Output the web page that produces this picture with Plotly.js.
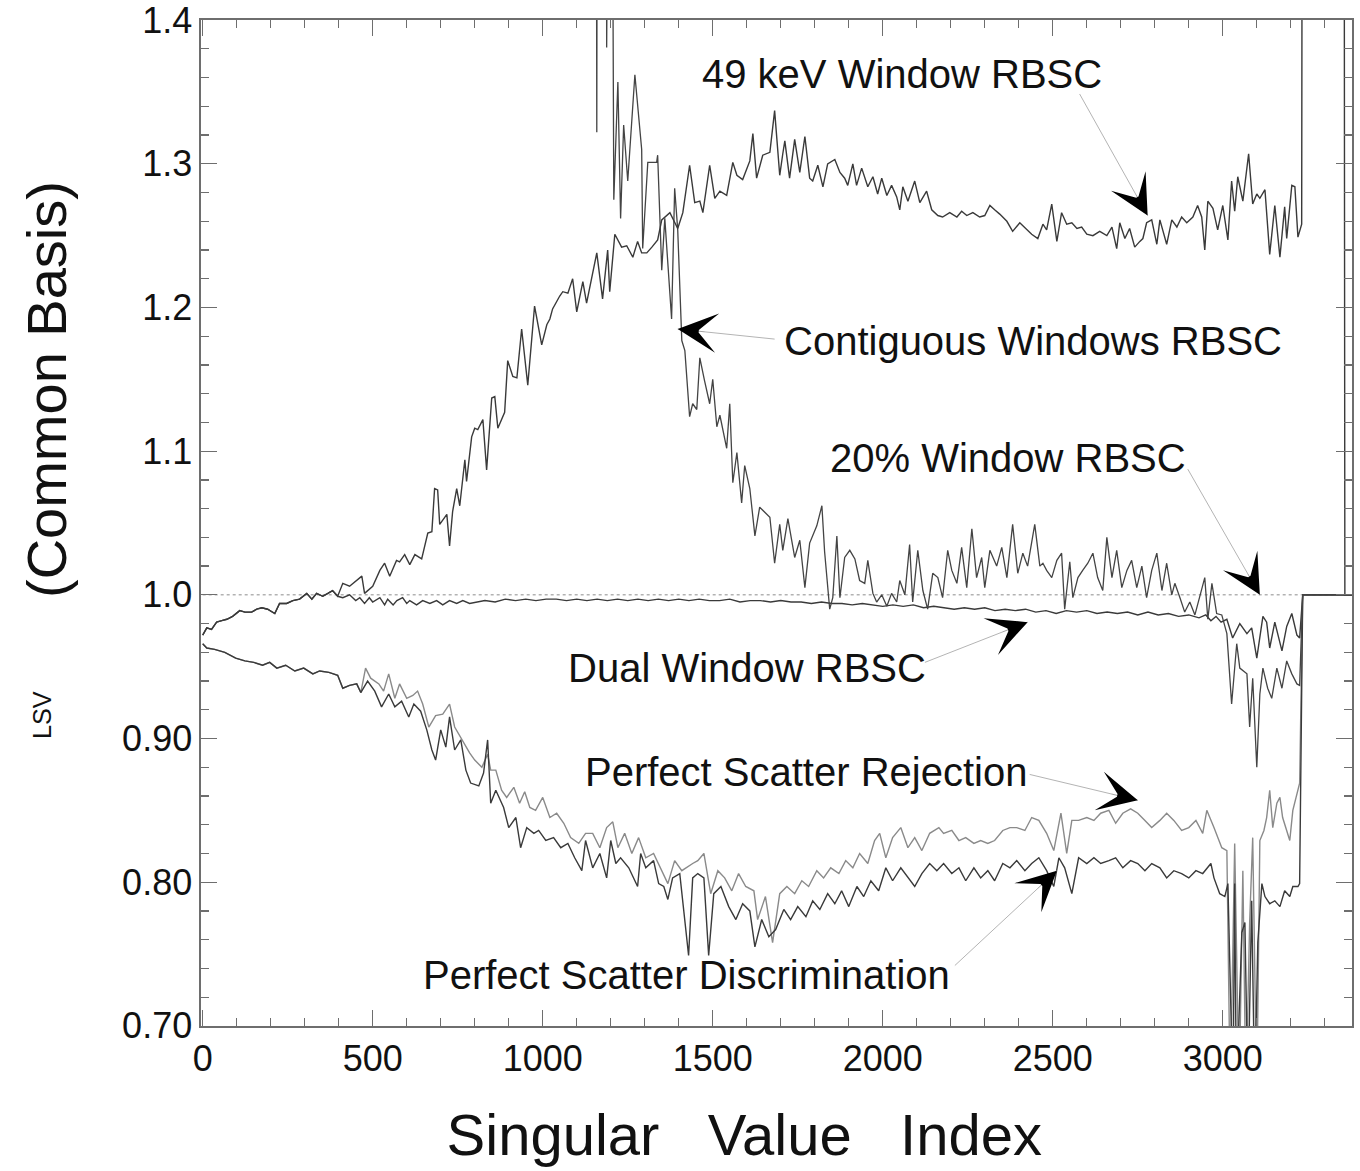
<!DOCTYPE html>
<html><head><meta charset="utf-8">
<script src="https://cdn.plot.ly/plotly-3.0.1.min.js"></script>
<style>html,body{margin:0;padding:0;background:#fff}</style>
</head><body>
<div id="chart" style="width:1360px;height:1171px"></div>
<script>
// ---------- data: [singular value index, LSV ratio] ----------
const earlyUpper = [[0,0.972],[12,0.977],[26,0.976],[41,0.981],[56,0.982],[71,0.983],[88,0.985],[109,0.989],[124,0.988],[144,0.988],[159,0.990],[174,0.991],[191,0.990],[212,0.987],[226,0.994],[247,0.994],[265,0.996],[285,0.997],[306,1.001],[321,0.997],[335,1.001],[353,0.999],[368,1.001],[382,1.003],[397,0.999]];

const earlyLower = [[0,0.966],[12,0.963],[35,0.962],[65,0.960],[97,0.956],[124,0.954],[150,0.953],[176,0.951],[197,0.953],[218,0.949],[244,0.951],[271,0.947],[297,0.949],[324,0.945],[344,0.947],[371,0.946],[397,0.944],[412,0.935],[432,0.937],[453,0.938],[465,0.932]];

const keV49Rest = [[412,1.008],[432,1.006],[453,1.010],[468,1.013],[476,1.001],[500,1.006],[521,1.017],[535,1.022],[550,1.013],[570,1.024],[579,1.023],[594,1.028],[609,1.021],[624,1.028],[644,1.025],[662,1.043],[674,1.044],[682,1.074],[691,1.073],[697,1.049],[718,1.056],[726,1.034],[735,1.058],[747,1.074],[756,1.062],[771,1.094],[776,1.079],[791,1.110],[800,1.116],[809,1.115],[824,1.122],[835,1.087],[850,1.137],[859,1.138],[868,1.116],[888,1.127],[897,1.163],[912,1.152],[924,1.151],[938,1.185],[956,1.146],[976,1.201],[997,1.174],[1012,1.188],[1021,1.192],[1029,1.199],[1050,1.208],[1059,1.211],[1074,1.210],[1088,1.220],[1100,1.197],[1118,1.218],[1129,1.203],[1159,1.238],[1176,1.206],[1191,1.240],[1197,1.211],[1212,1.251],[1232,1.242],[1247,1.243],[1265,1.235],[1279,1.246],[1291,1.238],[1306,1.238],[1321,1.242],[1338,1.247],[1350,1.261],[1374,1.266],[1397,1.255],[1412,1.266],[1432,1.299],[1447,1.273],[1462,1.274],[1471,1.266],[1491,1.299],[1506,1.276],[1521,1.281],[1541,1.278],[1559,1.301],[1571,1.292],[1588,1.289],[1609,1.302],[1618,1.321],[1629,1.290],[1647,1.306],[1668,1.308],[1682,1.337],[1697,1.292],[1706,1.307],[1712,1.316],[1726,1.290],[1741,1.317],[1756,1.294],[1771,1.319],[1785,1.290],[1794,1.288],[1809,1.299],[1824,1.284],[1838,1.300],[1859,1.303],[1874,1.294],[1888,1.290],[1897,1.285],[1912,1.300],[1923,1.285],[1938,1.297],[1956,1.284],[1971,1.291],[1985,1.279],[1997,1.290],[2012,1.278],[2026,1.285],[2041,1.277],[2050,1.268],[2059,1.284],[2074,1.274],[2094,1.288],[2109,1.273],[2129,1.281],[2144,1.268],[2162,1.264],[2176,1.263],[2197,1.266],[2218,1.263],[2232,1.267],[2247,1.264],[2265,1.266],[2285,1.263],[2300,1.264],[2315,1.271],[2329,1.268],[2344,1.265],[2365,1.260],[2382,1.253],[2403,1.259],[2424,1.254],[2438,1.251],[2456,1.248],[2471,1.258],[2482,1.254],[2497,1.272],[2512,1.246],[2526,1.266],[2541,1.258],[2556,1.259],[2571,1.255],[2585,1.256],[2600,1.251],[2618,1.250],[2638,1.253],[2659,1.250],[2674,1.256],[2688,1.241],[2697,1.259],[2712,1.248],[2726,1.255],[2741,1.242],[2756,1.246],[2765,1.248],[2776,1.259],[2791,1.261],[2806,1.244],[2815,1.261],[2835,1.244],[2850,1.261],[2865,1.256],[2879,1.263],[2894,1.259],[2912,1.263],[2926,1.271],[2938,1.263],[2947,1.240],[2956,1.274],[2971,1.269],[2985,1.254],[3000,1.271],[3015,1.247],[3026,1.288],[3035,1.267],[3044,1.291],[3059,1.274],[3076,1.307],[3088,1.272],[3100,1.279],[3109,1.276],[3124,1.282],[3138,1.237],[3153,1.271],[3168,1.235],[3182,1.270],[3188,1.248],[3203,1.285],[3212,1.284],[3221,1.249],[3232,1.258],[3235,1.8],[3356,1.8],[3359,1.0],[3380,1.0]];

const dualRest = [[412,0.998],[432,1.000],[450,0.996],[462,0.998],[476,0.994],[490,0.998],[500,0.995],[521,0.998],[535,0.993],[544,0.997],[560,0.993],[571,0.996],[588,0.998],[600,0.994],[609,0.996],[629,0.993],[647,0.996],[668,0.994],[688,0.996],[706,0.993],[726,0.996],[747,0.994],[765,0.996],[785,0.994],[806,0.995],[830,0.996],[860,0.995],[890,0.997],[920,0.996],[950,0.997],[980,0.996],[1010,0.997],[1040,0.997],[1070,0.996],[1100,0.997],[1130,0.996],[1160,0.997],[1190,0.996],[1220,0.997],[1250,0.996],[1280,0.997],[1310,0.996],[1340,0.997],[1370,0.996],[1400,0.997],[1430,0.996],[1460,0.997],[1490,0.996],[1520,0.996],[1550,0.997],[1580,0.995],[1610,0.996],[1640,0.996],[1670,0.995],[1700,0.996],[1730,0.995],[1760,0.995],[1790,0.994],[1820,0.995],[1850,0.994],[1880,0.994],[1910,0.993],[1940,0.994],[1970,0.993],[2000,0.992],[2030,0.993],[2060,0.992],[2090,0.993],[2120,0.991],[2150,0.992],[2180,0.991],[2210,0.990],[2240,0.991],[2270,0.990],[2300,0.991],[2330,0.989],[2360,0.990],[2390,0.989],[2420,0.990],[2450,0.988],[2480,0.989],[2510,0.987],[2540,0.989],[2570,0.988],[2600,0.989],[2630,0.987],[2660,0.988],[2690,0.987],[2720,0.988],[2750,0.986],[2780,0.988],[2810,0.986],[2840,0.987],[2870,0.985],[2900,0.986],[2930,0.984],[2950,0.986],[2965,0.982],[2980,0.985],[2995,0.981],[3012,0.983],[3029,0.970],[3050,0.980],[3071,0.973],[3085,0.977],[3100,0.956],[3118,0.985],[3129,0.981],[3138,0.963],[3153,0.981],[3174,0.961],[3188,0.978],[3203,0.987],[3218,0.972],[3226,0.970],[3235,1.0],[3380,1.0]];

const contiguous = [[1140,1.8],[1156,1.8],[1159,1.322],[1162,1.8],[1186,1.8],[1188,1.381],[1190,1.8],[1200,1.8],[1209,1.275],[1221,1.357],[1229,1.262],[1238,1.327],[1250,1.288],[1271,1.362],[1291,1.310],[1294,1.241],[1309,1.301],[1335,1.301],[1338,1.306],[1350,1.226],[1359,1.262],[1379,1.192],[1388,1.283],[1397,1.254],[1409,1.177],[1418,1.170],[1432,1.124],[1441,1.133],[1453,1.129],[1462,1.165],[1476,1.149],[1491,1.133],[1500,1.150],[1512,1.117],[1521,1.125],[1541,1.102],[1550,1.133],[1559,1.078],[1571,1.099],[1585,1.064],[1594,1.090],[1609,1.074],[1624,1.041],[1638,1.061],[1668,1.054],[1682,1.022],[1697,1.049],[1706,1.031],[1721,1.053],[1741,1.026],[1756,1.038],[1771,1.005],[1785,1.036],[1806,1.048],[1821,1.062],[1829,1.030],[1844,0.990],[1853,0.998],[1865,1.041],[1874,0.998],[1888,1.026],[1903,1.031],[1918,1.025],[1932,1.010],[1947,1.008],[1956,1.024],[1971,1.001],[1982,0.995],[1997,1.000],[2012,0.992],[2026,1.001],[2041,0.995],[2050,1.010],[2065,1.000],[2079,1.035],[2088,0.995],[2103,1.031],[2118,1.003],[2132,0.990],[2147,1.015],[2162,1.012],[2176,0.998],[2191,1.031],[2203,1.017],[2218,1.008],[2232,1.033],[2247,1.005],[2262,1.046],[2276,1.012],[2291,1.026],[2300,1.005],[2315,1.031],[2335,1.020],[2350,1.033],[2365,1.012],[2382,1.049],[2397,1.015],[2412,1.029],[2426,1.020],[2447,1.049],[2462,1.020],[2471,1.022],[2482,1.017],[2497,1.012],[2512,1.024],[2526,1.029],[2535,0.990],[2550,1.023],[2559,0.998],[2574,1.012],[2588,1.017],[2603,1.022],[2618,1.029],[2632,1.012],[2647,1.003],[2659,1.040],[2674,1.012],[2688,1.031],[2703,1.005],[2718,1.017],[2732,1.024],[2747,1.005],[2762,1.020],[2776,0.998],[2791,1.017],[2806,1.029],[2821,1.003],[2835,1.022],[2850,1.000],[2859,1.008],[2874,0.998],[2888,0.988],[2903,0.995],[2918,0.986],[2947,1.012],[2956,0.983],[2968,1.008],[2982,0.987],[2997,0.986],[3012,0.973],[3026,0.924],[3041,0.966],[3050,0.949],[3071,0.945],[3079,0.908],[3088,0.942],[3100,0.880],[3109,0.931],[3118,0.949],[3132,0.935],[3144,0.928],[3159,0.949],[3174,0.935],[3188,0.954],[3203,0.945],[3218,0.938],[3226,0.937],[3235,1.0],[3380,1.0]];

const rejectionRest = [[479,0.949],[494,0.942],[518,0.938],[532,0.933],[547,0.945],[565,0.928],[579,0.938],[600,0.928],[618,0.930],[632,0.933],[647,0.924],[665,0.908],[685,0.916],[706,0.917],[726,0.924],[741,0.908],[762,0.899],[785,0.890],[800,0.885],[821,0.880],[838,0.889],[847,0.878],[862,0.878],[879,0.864],[894,0.859],[915,0.866],[932,0.855],[947,0.863],[962,0.852],[979,0.850],[1000,0.859],[1021,0.845],[1041,0.848],[1062,0.841],[1082,0.831],[1106,0.827],[1126,0.834],[1147,0.834],[1168,0.824],[1188,0.838],[1206,0.842],[1221,0.824],[1241,0.834],[1262,0.820],[1282,0.831],[1303,0.817],[1326,0.820],[1347,0.810],[1368,0.799],[1388,0.815],[1409,0.808],[1441,0.813],[1456,0.815],[1474,0.820],[1494,0.792],[1515,0.808],[1535,0.803],[1556,0.794],[1576,0.806],[1597,0.797],[1621,0.794],[1632,0.774],[1655,0.790],[1676,0.758],[1697,0.792],[1718,0.797],[1741,0.792],[1762,0.801],[1782,0.797],[1806,0.808],[1826,0.803],[1847,0.810],[1871,0.806],[1891,0.815],[1912,0.810],[1932,0.820],[1956,0.813],[1976,0.829],[1991,0.834],[2009,0.817],[2029,0.831],[2053,0.838],[2074,0.824],[2094,0.831],[2115,0.822],[2138,0.834],[2165,0.838],[2179,0.834],[2203,0.836],[2224,0.829],[2244,0.831],[2268,0.827],[2288,0.829],[2309,0.827],[2329,0.829],[2353,0.836],[2374,0.838],[2394,0.838],[2418,0.836],[2438,0.845],[2459,0.843],[2482,0.834],[2503,0.822],[2524,0.848],[2541,0.820],[2556,0.843],[2576,0.843],[2600,0.845],[2621,0.843],[2641,0.848],[2665,0.850],[2685,0.841],[2706,0.848],[2729,0.851],[2750,0.848],[2771,0.843],[2791,0.838],[2815,0.843],[2835,0.848],[2856,0.843],[2879,0.836],[2900,0.838],[2921,0.843],[2941,0.834],[2953,0.850],[2974,0.838],[2997,0.824],[3012,0.822],[3022,0.65],[3035,0.827],[3048,0.65],[3059,0.808],[3068,0.65],[3079,0.772],[3088,0.831],[3100,0.65],[3109,0.829],[3121,0.836],[3129,0.845],[3138,0.864],[3147,0.838],[3159,0.855],[3168,0.859],[3176,0.845],[3188,0.836],[3197,0.829],[3206,0.850],[3218,0.862],[3226,0.869],[3235,1.0],[3380,1.0]];

const discriminationRest = [[485,0.940],[506,0.933],[526,0.922],[547,0.931],[565,0.922],[585,0.926],[606,0.915],[621,0.924],[641,0.919],[659,0.906],[674,0.892],[685,0.885],[700,0.906],[715,0.894],[726,0.915],[741,0.892],[759,0.899],[774,0.878],[788,0.869],[812,0.867],[826,0.876],[838,0.899],[847,0.855],[862,0.864],[885,0.852],[900,0.838],[921,0.845],[935,0.824],[953,0.838],[974,0.834],[988,0.836],[1009,0.829],[1032,0.831],[1053,0.824],[1074,0.827],[1094,0.817],[1115,0.808],[1126,0.829],[1147,0.810],[1168,0.820],[1188,0.803],[1200,0.829],[1215,0.813],[1229,0.817],[1253,0.810],[1279,0.797],[1288,0.820],[1303,0.810],[1326,0.815],[1341,0.799],[1356,0.797],[1368,0.788],[1382,0.803],[1403,0.806],[1429,0.749],[1441,0.803],[1456,0.806],[1474,0.803],[1488,0.749],[1503,0.792],[1524,0.797],[1547,0.783],[1568,0.774],[1588,0.785],[1609,0.780],[1624,0.755],[1644,0.774],[1665,0.762],[1685,0.767],[1709,0.781],[1729,0.774],[1750,0.783],[1774,0.776],[1794,0.787],[1815,0.781],[1838,0.792],[1859,0.785],[1879,0.794],[1900,0.783],[1924,0.797],[1944,0.790],[1965,0.801],[1988,0.794],[2009,0.810],[2029,0.801],[2053,0.810],[2074,0.803],[2094,0.797],[2115,0.806],[2138,0.813],[2159,0.808],[2179,0.813],[2203,0.806],[2224,0.810],[2244,0.801],[2268,0.810],[2288,0.803],[2309,0.808],[2329,0.801],[2353,0.813],[2374,0.810],[2394,0.815],[2418,0.808],[2438,0.813],[2459,0.817],[2482,0.808],[2503,0.797],[2518,0.817],[2535,0.810],[2556,0.792],[2576,0.817],[2600,0.813],[2621,0.817],[2641,0.813],[2665,0.815],[2685,0.817],[2706,0.810],[2729,0.815],[2750,0.813],[2771,0.808],[2791,0.813],[2815,0.810],[2835,0.803],[2856,0.808],[2879,0.806],[2900,0.803],[2921,0.808],[2941,0.806],[2965,0.813],[2974,0.803],[2991,0.792],[3006,0.790],[3015,0.799],[3030,0.65],[3035,0.799],[3040,0.65],[3056,0.765],[3065,0.772],[3074,0.65],[3085,0.787],[3094,0.65],[3103,0.758],[3115,0.799],[3124,0.790],[3138,0.785],[3153,0.787],[3168,0.783],[3182,0.794],[3197,0.790],[3206,0.797],[3221,0.797],[3226,0.799],[3235,1.0],[3380,1.0]];

const window20 = [[0,1.0],[3380,1.0]];

const xTickVals = [0, 500, 1000, 1500, 2000, 2500, 3000];
const xTickText = ['0', '500', '1000', '1500', '2000', '2500', '3000'];
const yTickVals = [0.7, 0.8, 0.9, 1.0, 1.1, 1.2, 1.3, 1.4];
const yTickText = ['0.70', '0.80', '0.90', '1.0', '1.1', '1.2', '1.3', '1.4'];

// ---------- build ----------
const keV49 = earlyUpper.concat(keV49Rest);
const dual = earlyUpper.concat(dualRest);
const rejection = earlyLower.concat(rejectionRest);
const discrimination = earlyLower.concat(discriminationRest);

function line(pts, name, color, width, dash) {
  return {
    type: 'scatter', mode: 'lines', name: name,
    x: pts.map(p => p[0]), y: pts.map(p => p[1]),
    line: {color: color, width: width, dash: dash || 'solid'},
    hoverinfo: 'x+y+name'
  };
}

const traces = [
  line(window20, '20% Window RBSC', '#8c8c8c', 1, 'dot'),
  line(rejection, 'Perfect Scatter Rejection', '#8a8a8a', 1.4),
  line(discrimination, 'Perfect Scatter Discrimination', '#3a3a3a', 1.4),
  line(dual, 'Dual Window RBSC', '#3a3a3a', 1.4),
  line(contiguous, 'Contiguous Windows RBSC', '#444444', 1.3),
  line(keV49, '49 keV Window RBSC', '#3a3a3a', 1.4)
];

const FONT = 'Liberation Sans, Arial, Helvetica, sans-serif';
const KX = 1151 / 3385, KY = 1006 / 0.7;

const labels = [
  {t: '49 keV Window RBSC', x: 1462, y: 1.3625, tip: [2779, 1.264], tail: [2579, 1.3486]},
  {t: 'Contiguous Windows RBSC', x: 1703, y: 1.1764, tip: [1397, 1.185], tail: [1682, 1.178]},
  {t: '20% Window RBSC', x: 1838, y: 1.0951, tip: [3109, 1.000], tail: [2897, 1.0875]},
  {t: 'Dual Window RBSC', x: 1068, y: 0.9493, tip: [2426, 0.981], tail: [2124, 0.953]},
  {t: 'Perfect Scatter Rejection', x: 1118, y: 0.8764, tip: [2750, 0.857], tail: [2432, 0.875]},
  {t: 'Perfect Scatter Discrimination', x: 641, y: 0.7354, tip: [2512, 0.808], tail: [2212, 0.742]}
];

const annotations = [];
const shapes = [];
labels.forEach(l => {
  annotations.push({xref: 'x', yref: 'y', x: l.x, y: l.y, text: l.t, showarrow: false,
    xanchor: 'left', yanchor: 'middle', font: {family: FONT, size: 40, color: '#111'}});
  shapes.push({type: 'line', xref: 'x', yref: 'y', x0: l.tail[0], y0: l.tail[1], x1: l.tip[0], y1: l.tip[1],
    line: {color: '#b4b4b4', width: 1}, layer: 'above'});
  const dx = (l.tail[0] - l.tip[0]) * KX, dy = -(l.tail[1] - l.tip[1]) * KY;
  const len = Math.hypot(dx, dy);
  annotations.push({xref: 'x', yref: 'y', x: l.tip[0], y: l.tip[1],
    ax: dx / len * 30, ay: dy / len * 30, text: ' ', showarrow: true, arrowhead: 3,
    arrowwidth: 0.1, arrowsize: 66, arrowcolor: '#000', standoff: 0});
});

const NB = '\u00a0';
const axisCommon = {
  showline: true, linecolor: '#6e6e6e', linewidth: 1.6, mirror: 'ticks',
  ticks: 'inside', ticklen: 16, tickwidth: 1.3, tickcolor: '#6e6e6e',
  showgrid: false, zeroline: false, ticklabeloverflow: 'allow',
  tickfont: {family: FONT, size: 36, color: '#111'}
};

const layout = {
  width: 1360, height: 1171,
  margin: {l: 201, r: 8, t: 20, b: 145},
  paper_bgcolor: '#fff', plot_bgcolor: '#fff',
  showlegend: false,
  xaxis: Object.assign({}, axisCommon, {
    range: [-5, 3380], tickvals: xTickVals, ticktext: xTickText,
    minor: {dtick: 100, tick0: 0, ticks: 'inside', ticklen: 8, tickwidth: 1.2, tickcolor: '#6e6e6e'},
    title: {text: 'Singular' + NB + NB + NB + 'Value' + NB + NB + NB + 'Index' + NB + NB + NB + NB + '.',
      font: {family: FONT, size: 58, color: '#111'}, standoff: 36}
  }),
  yaxis: Object.assign({}, axisCommon, {
    range: [0.6999, 1.4001], tickvals: yTickVals, ticktext: yTickText,
    minor: {dtick: 0.02, tick0: 0.7, ticks: 'inside', ticklen: 8, tickwidth: 1.2, tickcolor: '#6e6e6e'},
    title: {text: '<sup>' + NB.repeat(18) + 'LSV</sup><span style="font-size:56px">' + NB.repeat(6) + '(Common Basis)</span>',
      font: {family: FONT, size: 36, color: '#111'}, standoff: 44}
  }),
  shapes: shapes,
  annotations: annotations
};

Plotly.newPlot('chart', traces, layout, {displayModeBar: false, staticPlot: true}).then(() => {
  // hide the trailing padding dot of the x title (used only to keep the padding from being trimmed)
  document.querySelectorAll('.xtitle').forEach(el => {
    const t = el.textContent;
    if (t.endsWith('.')) el.textContent = t.slice(0, -1) + '\u200b';
  });
});
</script>
</body></html>
